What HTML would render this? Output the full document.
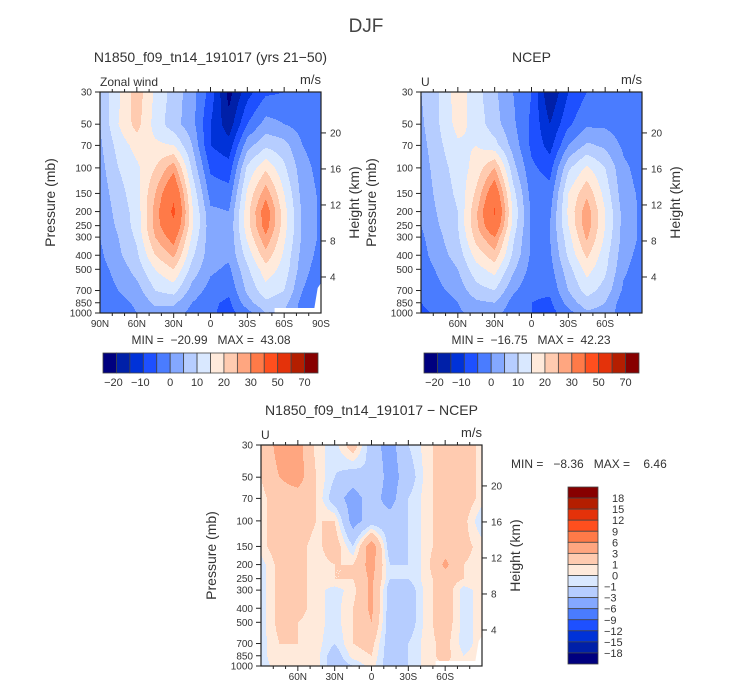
<!DOCTYPE html>
<html><head><meta charset="utf-8">
<style>
body{margin:0;background:#fff;}
svg text{font-family:"Liberation Sans",sans-serif;fill:#333;white-space:pre;}
</style></head>
<body>
<svg id="root" width="732" height="690" xmlns="http://www.w3.org/2000/svg" xml:space="preserve">
<rect width="732" height="690" fill="#fff"/>
<text x="366" y="32" font-size="19" text-anchor="middle" style="fill:#444">DJF</text>
<g id="layer"></g>
</svg>
<script>
const lats=[90,75,60,45,30,15,0,-15,-30,-45,-60,-75,-90];
const levels=[1000,850,700,500,400,300,250,200,150,100,70,50,30];
const modelU=[
[-5,-3,0,3,3,-2,-4,-7,-2,5,4,-2,0],
[-4,-2,1,6,6,0,-4,-6,3,9,7,-2,-3],
[-3,0,3,10,12,3,-2,-4,6,13,10,0,-4],
[-2,2,7,15,20,8,1,-1,9,18,13,2,-3],
[-1,4,9,20,26,11,2,1,12,23,14,3,-2],
[0,5,11,25,33,14,2,1,16,29,16,4,-1],
[1,6,12,27,38,16,2,1,18,33,17,4,-1],
[1,7,12,27,42,16,1,0,18,34,17,4,-1],
[2,8,13,25,38,14,-2,-3,16,28,15,3,-1],
[3,10,14,20,28,9,-6,-8,11,19,11,2,-2],
[4,12,17,16,15,5,-10,-13,3,9,7,0,-3],
[5,15,22,13,7,2,-10,-18,-5,2,0,-2,-3],
[6,14,23,14,8,2,-7,-22,-12,-6,-5,-4,-2]];
const ncepU=[
[-6,-4,-1,2,2,-3,-5,-7,-2,4,3,-3,-3],
[-5,-3,0,4,5,-2,-5,-6,2,8,5,-3,-4],
[-4,-1,2,8,10,1,-4,-4,5,12,8,-1,-4],
[-3,1,5,13,17,6,-2,-2,8,17,11,1,-3],
[-2,3,7,17,23,9,-1,-1,11,21,12,2,-2],
[-1,4,9,22,30,11,-1,0,13,26,14,3,-1],
[0,5,10,24,37,13,-1,0,15,28,15,3,-1],
[0,6,10,24,41,14,-1,-1,16,28,15,3,-1],
[1,7,11,21,36,12,-2,-3,15,24,13,2,-1],
[2,8,12,17,25,7,-4,-7,9,16,10,1,-2],
[3,9,14,15,12,3,-6,-12,0,6,4,-1,-3],
[4,10,17,13,7,1,-6,-15,-6,-1,-1,-3,-4],
[5,10,18,12,6,0,-5,-20,-10,-5,-3,-4,-3]];
const diffU=[
[-0.5,0.5,0.5,0.5,-2,-1,0.5,-2,-1,0.5,1,0,0],
[-0.5,1,0.5,0.5,-2,0.5,1,-2,-1,0.5,1.5,0,0.5],
[-0.5,1,1,0.5,-1,1,1.5,-2,-1,0.5,1.5,-0.5,0.5],
[-0.5,1.5,1,0.5,-0.5,1,3,-2,-2,0.5,2,-0.5,0.5],
[-0.5,1.5,1.5,0.5,-0.5,1,3.5,-2,-2,0.5,2,-0.5,0.5],
[-0.5,1.5,1.5,0.5,-0.5,0.5,3.5,-2,-2,0.5,2,-0.5,0.5],
[-0.5,1.5,1.5,0.5,1,1,3.5,-1,-1,0.5,2,1,0.5],
[-0.5,1.5,1.5,0.5,1,1,4,-1,-1,0.5,3.5,1,0.5],
[0.5,2,1.5,0.5,2,-1,4.5,-2,-1,0.5,2,1.5,0.5],
[0.5,2,2,1,1,-4,-2,-2,-1,0.5,2,1.5,-1],
[0.5,2,2,1,-2,-4,-2,-4,-1,0.5,2,2,0.5],
[1,3,4,1,-1,-2,-1,-4,-2,0.5,2,2,0.5],
[1,4,4,0.5,-0.5,2,-2,-4,-1,0.5,2,2,0.5]];
const windLevels=[-20,-15,-10,-5,0,5,10,15,20,25,30,40,50,60,70];
const windTickLabels=["−20","−10","0","10","20","30","50","70"];
const diffLevels=[-18,-15,-12,-9,-6,-3,-1,0,1,3,6,9,12,15,18];
const diffTickLabels=["−18","−15","−12","−9","−6","−3","−1","0","1","3","6","9","12","15","18"];
const presTicks=[1000,850,700,500,400,300,250,200,150,100,70,50,30];
const heightTicks=[4,8,12,16,20];
const colors=["#00007f","#0020a8","#0032d8","#1e50ff","#4a7cff","#84a8ff","#b6cdff","#d9e8ff","#ffeadb","#ffcbb0","#ffa680","#ff7a48","#ff4f1e","#e4320a","#b41e00","#870000"];

const NS="http://www.w3.org/2000/svg";
const layer=document.getElementById('layer');
function mk(tag,attrs,parent){const e=document.createElementNS(NS,tag);for(const k in attrs)e.setAttribute(k,attrs[k]);(parent||layer).appendChild(e);return e;}
function txt(x,y,s,size,anchor,parent,name,rot){const t=mk('text',{x:x,y:y,'font-size':size,'text-anchor':anchor||'middle'},parent);t.textContent=s;


if(rot)t.setAttribute('transform','rotate(-90 '+x+' '+y+')');return t;}

function colorIdx(v,lv){let i=0;while(i<lv.length&&v>=lv[i])i++;return i;}
function interp(grid,fi,fj){
  const i0=Math.min(Math.floor(fi),levels.length-2),j0=Math.min(Math.floor(fj),lats.length-2);
  const a=fi-i0,b=fj-j0;
  return grid[i0][j0]*(1-a)*(1-b)+grid[i0][j0+1]*(1-a)*b+grid[i0+1][j0]*a*(1-b)+grid[i0+1][j0+1]*a*b;}
const logLv=levels.map(p=>Math.log(p));
function pIndex(p){const lp=Math.log(p);for(let i=0;i<levels.length-1;i++){if(lp<=logLv[i]&&lp>=logLv[i+1])return i+(logLv[i]-lp)/(logLv[i]-logLv[i+1]);}return lp>logLv[0]?0:levels.length-1;}

function panel(name,X,Y,W,H,grid,lv,opts){
  const g=mk('g',{});
  
  
  const xOf=lat=>X+(90-lat)/180*W;
  const yOf=p=>Y+Math.log(p/30)/Math.log(1000/30)*H;
  const latOf=px=>90-(px-X)/W*180;
  const pOf=py=>30*Math.exp((py-Y)/H*Math.log(1000/30));
  const fg=mk('g',{},g);
  
  
  for(let r=0;r<H;r++){
    const p=pOf(Y+r+0.5);const fi=pIndex(p);
    let start=0,cur=-1;
    for(let c=0;c<=W;c++){
      let ci=-2;
      if(c<W){const lat=latOf(X+c+0.5);const fj=(90-lat)/15;ci=colorIdx(interp(grid,fi,fj),lv);}
      if(ci!==cur){
        if(cur>=0){const rc=mk('rect',{x:X+start,y:Y+r,width:c-start,height:1.2,fill:colors[cur]},fg);
          
          }
        cur=ci;start=c;}
    }
  }
  if(opts.mask){const m=mk('path',{d:`M${X+W*0.79} ${Y+H} L${X+W*0.79} ${Y+H-5} L${X+W*0.97} ${Y+H-5} L${X+W*0.985} ${Y+H-25} L${X+W} ${Y+H-30} L${X+W} ${Y+H} Z`,fill:'#fff'},g);
    
    }
  const fr=mk('rect',{x:X,y:Y,width:W,height:H,fill:'none',stroke:'#222','stroke-width':1.2},g);
  
  
  presTicks.forEach(p=>{const y=yOf(p);mk('line',{x1:X-5,x2:X,y1:y,y2:y,stroke:'#222'},g);
    txt(X-8,y+3.5,String(p),10,'end',g,'pressure-tick-label');});
  heightTicks.forEach(h=>{const p=1000*Math.exp(-h/7);const y=yOf(p);mk('line',{x1:X+W,x2:X+W+5,y1:y,y2:y,stroke:'#222'},g);
    txt(X+W+9,y+3.5,String(h),10,'start',g,'height-tick-label');});
  for(let lat=-80;lat<=80;lat+=10){const x=xOf(lat);const L=(lat%30===0)?5:3;
    mk('line',{x1:x,x2:x,y1:Y+H,y2:Y+H+L,stroke:'#222'},g);mk('line',{x1:x,x2:x,y1:Y,y2:Y-L,stroke:'#222'},g);}
  const latLabels=opts.ends?[[90,'90N'],[60,'60N'],[30,'30N'],[0,'0'],[-30,'30S'],[-60,'60S'],[-90,'90S']]:[[60,'60N'],[30,'30N'],[0,'0'],[-30,'30S'],[-60,'60S']];
  latLabels.forEach(l=>txt(xOf(l[0]),Y+H+14,l[1],10,'middle',g,'latitude-tick-label'));
  txt(X-45,Y+H/2,'Pressure (mb)',14,'middle',g,'y-axis-title',true);
  txt(X+W+38,Y+H/2,'Height (km)',14,'middle',g,'right-axis-title',true);
  txt(X,Y-6,opts.left,12,'start',g,'variable-label');
  txt(X+W,Y-8,'m/s',13,'end',g,'units-label');
  txt(X+W/2,Y-30,opts.title,14,'middle',g,'panel-title');
}
function hbar(X,Y,W,H){const g=mk('g',{});
  const n=colors.length,bw=W/n;
  colors.forEach((c,i)=>{const r=mk('rect',{x:X+i*bw,y:Y,width:bw,height:H,fill:c,stroke:'#444','stroke-width':0.8},g);
    });
  windTickLabels.forEach((s,k)=>txt(X+(2*k+1)*bw-(s[0]==='−'?3:0),Y+H+13,s,11,'middle',g,'colorbar-label'));}
function vbar(X,Y,W,H){const g=mk('g',{});
  const n=colors.length,bh=H/n;
  colors.slice().reverse().forEach((c,i)=>{const r=mk('rect',{x:X,y:Y+i*bh,width:W,height:bh,fill:c,stroke:'#444','stroke-width':0.8},g);
    });
  diffTickLabels.slice().reverse().forEach((s,k)=>txt(X+W+(s[0]==='−'?6:14),Y+(k+1)*bh+4,s,11,'start',g,'colorbar-label'));}

panel('model-panel',100,92,221,221,modelU,windLevels,{ends:true,mask:true,left:'Zonal wind',title:'N1850_f09_tn14_191017 (yrs 21−50)'});
panel('ncep-panel',421,92,221,221,ncepU,windLevels,{ends:false,mask:false,left:'U',title:'NCEP'});
panel('diff-panel',261,445,221,221,diffU,diffLevels,{ends:false,mask:true,left:'U',title:'N1850_f09_tn14_191017 − NCEP'});
txt(211,344,'MIN =  −20.99   MAX =  43.08',12,'middle',null,'model-min-max');
txt(531,344,'MIN =  −16.75   MAX =  42.23',12,'middle',null,'ncep-min-max');
txt(511,468,'MIN =   −8.36   MAX =    6.46',12,'start',null,'diff-min-max');
hbar(103,353,215,20);
hbar(424,353,215,20);
vbar(568,487,30,177);
</script>
</body></html>
